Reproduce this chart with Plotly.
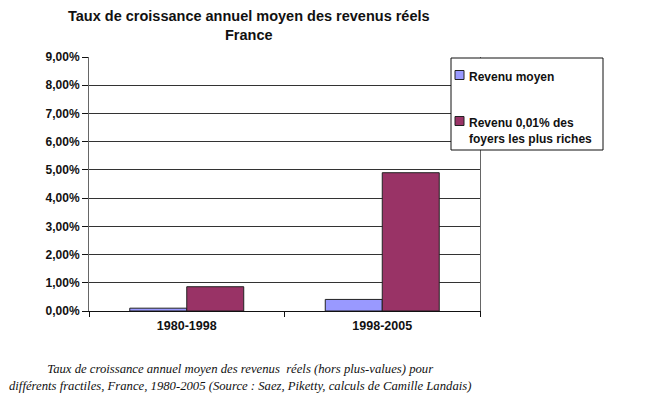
import plotly.graph_objects as go

categories = ["1980-1998", "1998-2005"]
revenu_moyen = [0.001, 0.0041]
revenu_top = [0.0086, 0.049]
series_names = ["Revenu moyen", "Revenu 0,01% des<br>foyers les plus riches"]
series_colors = ["#9999FF", "#993366"]
y_ticks = [i / 100 for i in range(0, 10)]

FONT = "Liberation Sans, Arial, sans-serif"
L, R, T, B = 89, 480, 57, 311
W, H = R - L, B - T


def px(x):
    return (x - L) / W


def py(y):
    return (B - y) / H


fig = go.Figure()
for vals, name, col in zip([revenu_moyen, revenu_top], series_names, series_colors):
    fig.add_trace(go.Bar(
        x=categories, y=vals, name=name,
        marker=dict(color=col, line=dict(color="#222", width=1)),
    ))

fig.update_layout(
    width=660, height=403,
    margin=dict(l=L, r=660 - R, t=T, b=403 - B),
    paper_bgcolor="white", plot_bgcolor="white",
    separators=", ",
    barmode="group", bargap=0.417, bargroupgap=0,
    font=dict(family=FONT, size=12, color="#111"),
    showlegend=False,
    xaxis=dict(
        showline=True, linecolor="#111", linewidth=1,
        ticks="outside", tickson="boundaries", ticklen=5, tickcolor="#111",
        ticklabelstandoff=3,
        tickfont=dict(family=FONT, size=12.5, color="#111", weight="bold"),
        showgrid=False,
    ),
    yaxis=dict(
        range=[0, 0.09], tickvals=y_ticks, tickformat=".2%",
        showline=True, linecolor="#666", linewidth=1, mirror=True,
        ticks="outside", ticklen=6, tickcolor="#111",
        showgrid=True, gridcolor="#333", gridwidth=1,
        tickfont=dict(family=FONT, size=12, color="#111", weight="bold"),
        zeroline=False,
    ),
)

# Title
fig.add_annotation(
    xref="paper", yref="paper", x=px(249), y=py(25),
    text="<b>Taux de croissance annuel moyen des revenus réels<br>France</b>",
    showarrow=False, xanchor="center", yanchor="middle", align="center",
    font=dict(family=FONT, size=14.5, color="#111"),
)

# Legend (box, swatches and labels built from the series lists)
fig.add_shape(type="rect", xref="paper", yref="paper",
              x0=px(451), x1=px(603), y0=py(150), y1=py(58),
              line=dict(color="#111", width=1), fillcolor="white", layer="above")
legend_rows = [75, 121]
for name, col, yc in zip(series_names, series_colors, legend_rows):
    fig.add_shape(type="rect", xref="paper", yref="paper",
                  x0=px(455), x1=px(464), y0=py(yc + 4.5), y1=py(yc - 4.5),
                  line=dict(color="#222", width=1), fillcolor=col, layer="above")
    fig.add_annotation(
        xref="paper", yref="paper", x=px(467), y=py(yc - 7),
        text="<b>" + name + "</b>", showarrow=False,
        xanchor="left", yanchor="top", align="left",
        font=dict(family=FONT, size=12, color="#111"),
    )

# Caption
fig.add_annotation(
    xref="paper", yref="paper", x=px(240), y=py(377),
    text="<i>Taux de croissance annuel moyen des revenus  réels (hors plus-values) pour<br>"
         "différents fractiles, France, 1980-2005 (Source : Saez, Piketty, calculs de Camille Landais)</i>",
    showarrow=False, xanchor="center", yanchor="middle", align="center",
    font=dict(family="Liberation Serif, Times New Roman, serif", size=12.7, color="#111"),
)

fig.write_html("out.html")
